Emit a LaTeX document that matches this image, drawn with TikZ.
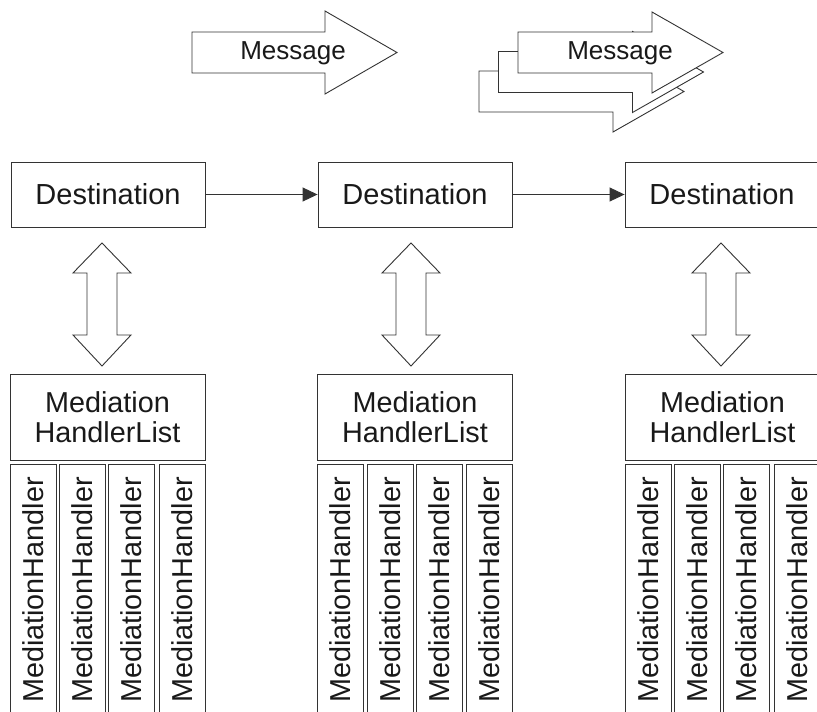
\documentclass[tikz,border=0pt]{standalone}
\usepackage{fontspec}
\setmainfont{Liberation Sans}
\usetikzlibrary{arrows.meta,calc}
\definecolor{linecol}{gray}{0.2}
\definecolor{textcol}{gray}{0.1}
\tikzset{
  box/.style={draw=linecol, line width=0.9pt, fill=white, text=textcol, inner sep=0pt},
  dest/.style={box, minimum width=194pt, minimum height=65pt, font=\fontsize{29}{33}\selectfont},
  hlist/.style={box, minimum width=195pt, minimum height=86pt, align=center, font=\fontsize{28.8}{30}\selectfont},
  handler/.style={box, rotate=90, minimum width=252pt, minimum height=46pt, font=\fontsize{28.8}{30}\selectfont},
  bigshape/.style={draw=linecol, line width=0.9pt, fill=white, line join=miter},
  msgtext/.style={text=textcol, inner sep=0pt, font=\fontsize{26}{30}\selectfont},
  conn/.style={draw=linecol, line width=0.9pt, -{Triangle[length=15pt,width=14pt]}}
}
\begin{document}
\begin{tikzpicture}[x=1pt,y=-1pt]
\useasboundingbox (0,0) rectangle (817,712);
\clip (0,0) rectangle (817,712);
\fill[white] (0,0) rectangle (817,712);

% single message arrow
\draw[bigshape] (192,32) -- (325,32) -- (325,11) -- (397,52.5) -- (325,94) -- (325,73) -- (192,73) -- cycle;
\node[msgtext] (msg1) at (293,53) {Message};

% stacked message arrows
\foreach \o in {39,19.5,0}
  \draw[bigshape, shift={(-\o,\o)}] (518,32) -- (652,32) -- (652,12) -- (723,52.5) -- (652,93) -- (652,73) -- (518,73) -- cycle;
\node[msgtext] (msg2) at (620,53) {Message};

% destinations
\node[dest] (d1) at (108,194.5) {Destination};
\node[dest] (d2) at (415,194.5) {Destination};
\node[dest] (d3) at (722,194.5) {Destination};
\draw[conn] (d1) -- (d2);
\draw[conn] (d2) -- (d3);

% double arrows
\foreach \cx in {102,411,721}
  \draw[bigshape] (\cx,243) -- (\cx+29,273) -- (\cx+15,273) -- (\cx+15,335) -- (\cx+29,335)
    -- (\cx,366) -- (\cx-29,335) -- (\cx-15,335) -- (\cx-15,273) -- (\cx-29,273) -- cycle;

% handler lists
\node[hlist] (hl1) at (107.5,417) {Mediation\\HandlerList};
\node[hlist] (hl2) at (415,417) {Mediation\\HandlerList};
\node[hlist] (hl3) at (722.5,417) {Mediation\\HandlerList};

% handlers
\foreach \g/\s in {1/0,2/307.5,3/615}{
  \foreach \k/\c in {1/33,2/82.5,3/131.5,4/182}{
    \node[handler] (mh\g\k) at (\c+\s,590) {MediationHandler};
  }
}
\end{tikzpicture}
\end{document}
